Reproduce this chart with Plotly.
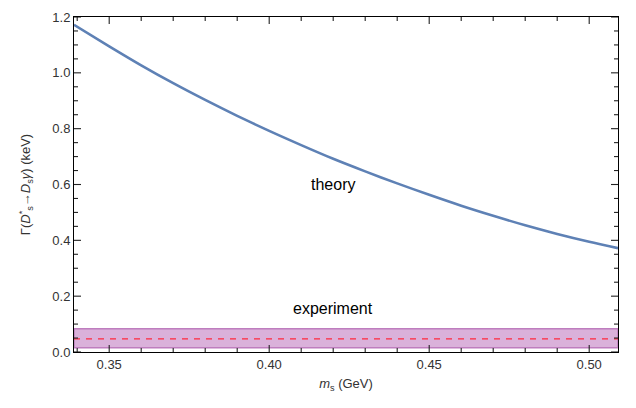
import plotly.graph_objects as go

m_s = [0.339, 0.35, 0.36, 0.37, 0.38, 0.39, 0.40, 0.41, 0.42, 0.43, 0.44,
       0.45, 0.46, 0.47, 0.48, 0.49, 0.50, 0.509]
gamma_theory = [1.172, 1.095, 1.027, 0.963, 0.903, 0.846, 0.792, 0.741, 0.692,
                0.647, 0.604, 0.563, 0.524, 0.488, 0.454, 0.423, 0.395, 0.372]
exp_central = 0.047
exp_low = 0.015
exp_high = 0.083
x_range = [0.339, 0.509]
y_range = [0.0, 1.2]
x_ticks = [0.35, 0.40, 0.45, 0.50]
x_ticklabels = ["0.35", "0.40", "0.45", "0.50"]
y_ticks = [0.0, 0.2, 0.4, 0.6, 0.8, 1.0, 1.2]
y_ticklabels = ["0.0", "0.2", "0.4", "0.6", "0.8", "1.0", "1.2"]
x_minor = [0.34, 0.36, 0.37, 0.38, 0.39, 0.41, 0.42, 0.43, 0.44, 0.46, 0.47,
           0.48, 0.49]
y_minor = [0.05, 0.1, 0.15, 0.25, 0.3, 0.35, 0.45, 0.5, 0.55, 0.65, 0.7, 0.75,
           0.85, 0.9, 0.95, 1.05, 1.1, 1.15]

W, H = 636, 408
ML, MR, MT, MB = 74, 18, 17, 56
plot_w = W - ML - MR
plot_h = H - MT - MB

fig = go.Figure()

# experimental band
fig.add_trace(go.Scatter(
    x=[x_range[0], x_range[1], x_range[1], x_range[0], x_range[0]],
    y=[exp_low, exp_low, exp_high, exp_high, exp_low],
    mode="lines", fill="toself",
    fillcolor="rgba(214,168,214,0.9)",
    line=dict(color="rgb(190,125,190)", width=1.5),
    hoverinfo="skip", showlegend=False))

fig.add_trace(go.Scatter(
    x=[x_range[0], x_range[1]], y=[exp_central, exp_central],
    mode="lines", line=dict(color="rgb(255,40,60)", width=1.3, dash="6px,6px"),
    showlegend=False))

fig.add_trace(go.Scatter(
    x=m_s, y=gamma_theory, mode="lines",
    line=dict(color="#5E81B5", width=2.6, shape="spline", smoothing=0.8),
    showlegend=False))

# frame ticks drawn inside on all four sides, at the tick values
dy_per_px = (y_range[1] - y_range[0]) / plot_h
dx_per_px = (x_range[1] - x_range[0]) / plot_w
tx, ty = [], []
for vals, ln in [(x_ticks, 7), (x_minor, 4)]:
    for v in vals:
        tx += [v, v, None, v, v, None]
        ty += [y_range[0], y_range[0] + ln * dy_per_px, None,
               y_range[1], y_range[1] - ln * dy_per_px, None]
for vals, ln in [(y_ticks, 7), (y_minor, 4)]:
    for v in vals:
        tx += [x_range[0], x_range[0] + ln * dx_per_px, None,
               x_range[1], x_range[1] - ln * dx_per_px, None]
        ty += [v, v, None, v, v, None]
fig.add_trace(go.Scatter(x=tx, y=ty, mode="lines", line=dict(color="#222222", width=1.1),
                         hoverinfo="skip", showlegend=False, cliponaxis=False))

fig.add_annotation(x=0.42, y=0.60, text="theory", showarrow=False,
                   font=dict(family="Liberation Sans, Arial", size=16, color="black"))
fig.add_annotation(x=0.42, y=0.155, text="experiment", showarrow=False,
                   font=dict(family="Liberation Sans, Arial", size=16, color="black"))

tickfont = dict(family="Liberation Sans, Arial", size=13, color="#333333")

fig.update_xaxes(range=x_range, tickmode="array", tickvals=x_ticks, ticktext=x_ticklabels,
                 showgrid=False, zeroline=False, showline=True, linecolor="black",
                 linewidth=1, mirror=True, ticks="", tickfont=tickfont,
                 title=dict(text="<i>m</i><sub>s</sub> (GeV)", font=tickfont, standoff=8))
fig.update_yaxes(range=y_range, tickmode="array", tickvals=y_ticks, ticktext=y_ticklabels,
                 showgrid=False, zeroline=False, showline=True, linecolor="black",
                 linewidth=1, mirror=True, ticks="", tickfont=tickfont,
                 title=dict(text="Γ(<i>D</i><sup>*</sup><sub>s</sub>→<i>D</i><sub>s</sub><i>γ</i>) (keV)",
                            font=tickfont, standoff=18))

fig.update_layout(
    width=W, height=H,
    margin=dict(l=ML, r=MR, t=MT, b=MB, autoexpand=False),
    plot_bgcolor="white", paper_bgcolor="white",
)

fig.write_html("out.html", config={"displayModeBar": False},
               post_script="document.body.style.margin='0';")
